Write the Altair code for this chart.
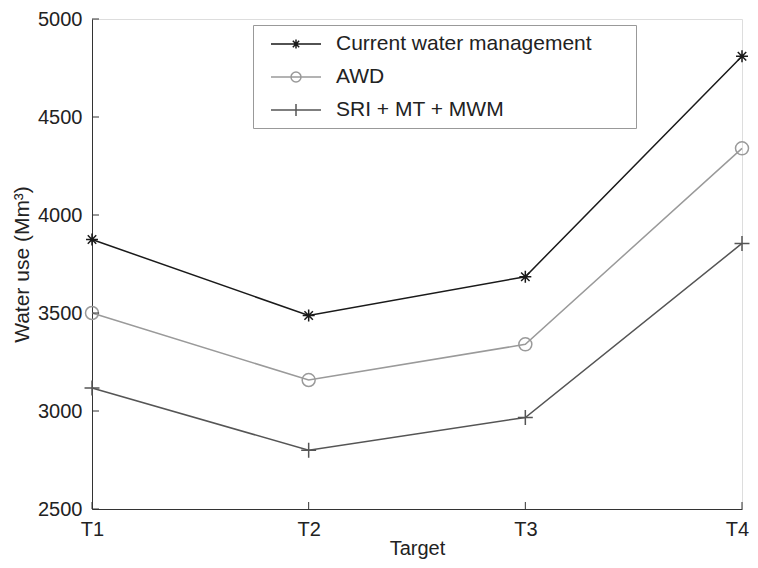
import altair as alt
import pandas as pd

targets = ["T1", "T2", "T3", "T4"]
series_names = ["Current water management", "AWD", "SRI + MT + MWM"]
current = [3875, 3487, 3685, 4810]
awd = [3500, 3158, 3340, 4340]
sri = [3117, 2800, 2967, 3855]
y_ticks = [2500, 3000, 3500, 4000, 4500, 5000]

colors = ["#1a1a1a", "#9a9a9a", "#555555"]

# marker shapes (unit = sqrt(size)/2)
star = "M0,-0.92L0,0.92M-0.92,0L0.92,0M-0.65,-0.65L0.65,0.65M-0.65,0.65L0.65,-0.65"
circ = "circle"
plus = "M0,-1.15L0,1.15M-1.15,0L1.15,0"
marker_shapes = [star, circ, plus]

# legend symbols: line + marker (unit = 10px at size 400)
leg_star = ("M-0.1,0L4.9,0M2.4,-0.45L2.4,0.45M2.08,-0.32L2.72,0.32"
            "M2.08,0.32L2.72,-0.32")
leg_circ = ("M-0.1,0L4.9,0M1.9,0A0.5,0.5 0 1 1 2.9,0"
            "A0.5,0.5 0 1 1 1.9,0")
leg_plus = "M-0.1,0L4.9,0M2.4,-0.6L2.4,0.6"
legend_shapes = [leg_star, leg_circ, leg_plus]

rows = []
for name, vals in zip(series_names, [current, awd, sri]):
    for t, v in zip(targets, vals):
        rows.append({"target": t, "value": v, "series": name})
df = pd.DataFrame(rows)

W, H = 650, 490
FONT = "Liberation Sans"

x_enc = alt.X("target:N", scale=alt.Scale(type="point", padding=0, domain=targets),
              axis=alt.Axis(title="Target", ticks=False, grid=False, labelAngle=0,
                            labelPadding=10, titlePadding=-1, domainColor="#333",
                            labelOffset={"condition": {"test": "datum.value === 'T4'",
                                                       "value": -5}, "value": 0},
                            labelFontSize=20, titleFontSize=20, labelColor="#222",
                            titleColor="#222", titleFontWeight="normal",
                            labelFont=FONT, titleFont=FONT))
y_enc = alt.Y("value:Q", scale=alt.Scale(domain=[2500, 5000], nice=False, zero=False),
              axis=alt.Axis(title="Water use (Mm³)", values=y_ticks, format="d",
                            ticks=False, grid=False, labelPadding=10, titlePadding=5,
                            domainColor="#333", labelFontSize=20, titleFontSize=21,
                            labelColor="#222", titleColor="#222",
                            titleFontWeight="normal", labelFont=FONT, titleFont=FONT))

color_scale = alt.Scale(domain=series_names, range=colors)

lines = alt.Chart(df).mark_line(strokeWidth=1.5).encode(
    x=x_enc, y=y_enc,
    color=alt.Color("series:N", scale=color_scale, legend=None),
    order=alt.Order("target:N"),
)

points = alt.Chart(df).mark_point(filled=False, strokeWidth=1.5, size=169, opacity=1).encode(
    x=x_enc, y=y_enc,
    color=alt.Color("series:N", scale=color_scale, legend=None),
    shape=alt.Shape("series:N", scale=alt.Scale(domain=series_names, range=marker_shapes),
                    legend=None),
)

PAD = " \u2800\u2800"
leg_kw = dict(
    title=None, orient="none", legendX=161, legendY=6, padding=8,
    symbolSize=400, symbolStrokeWidth=1.5, labelFontSize=21, labelFont=FONT,
    labelColor="#222", labelOffset=53, rowPadding=12, strokeColor="#999",
    fillColor="white", labelLimit=0,
    labelExpr="datum.label + '" + PAD + "'",
)

legend_layer = alt.Chart(df).transform_filter("datum.value < 0").mark_point(
    filled=False, strokeWidth=1.5, size=400, opacity=1).encode(
    x=x_enc, y=y_enc,
    color=alt.Color("series:N", scale=color_scale, legend=alt.Legend(**leg_kw)),
    shape=alt.Shape("series:N", scale=alt.Scale(domain=series_names, range=legend_shapes),
                    legend=alt.Legend(**leg_kw)),
)

ytick_df = pd.DataFrame({"v": y_ticks})
yticks = alt.Chart(ytick_df).mark_rule(color="#333", strokeWidth=1).encode(
    y=alt.Y("v:Q", scale=alt.Scale(domain=[2500, 5000], nice=False, zero=False)),
    x=alt.value(0), x2=alt.value(7),
)
xtick_df = pd.DataFrame({"t": targets})
xticks = alt.Chart(xtick_df).mark_rule(color="#333", strokeWidth=1).encode(
    x=alt.X("t:N", scale=alt.Scale(type="point", padding=0, domain=targets)),
    y=alt.value(H), y2=alt.value(H - 7),
)

chart = alt.layer(lines, points, legend_layer, yticks, xticks).resolve_scale(
    color="independent", shape="independent"
).properties(
    width=W, height=H,
    autosize=alt.AutoSizeParams(type="none"),
    padding={"left": 84, "top": 11, "right": 8, "bottom": 50},
).configure_view(stroke=None).configure(font=FONT)

chart.save("out.html", embed_options={"renderer": "svg", "actions": False})
